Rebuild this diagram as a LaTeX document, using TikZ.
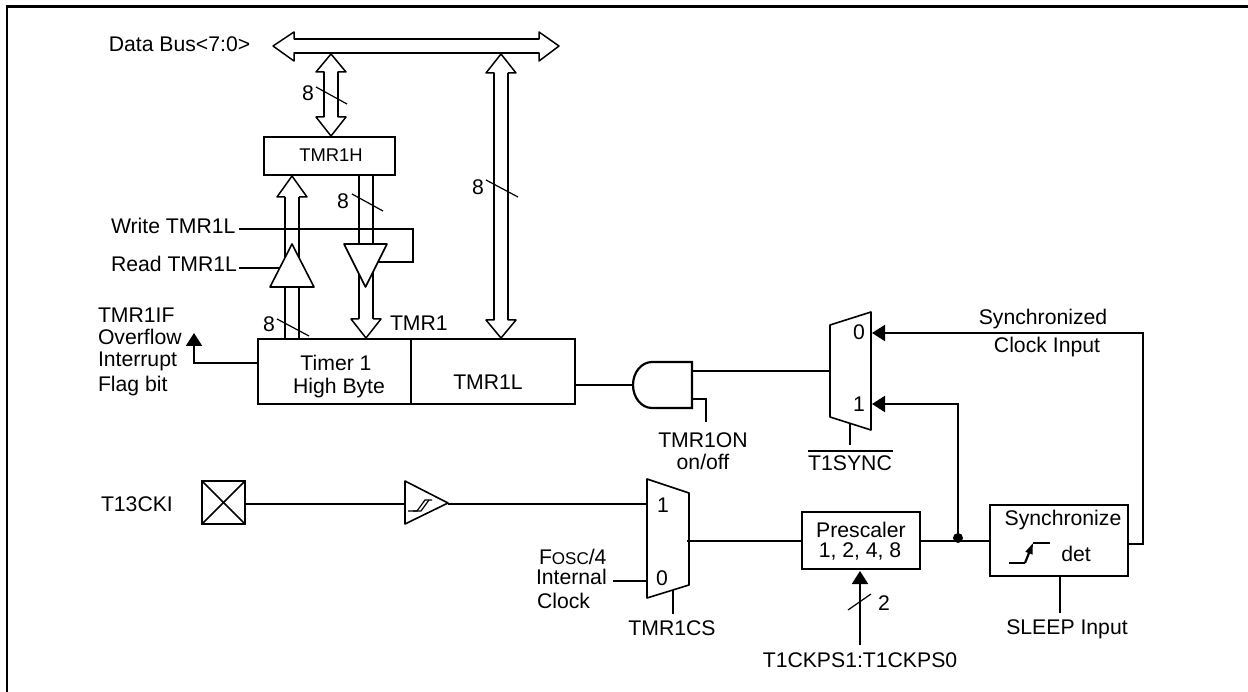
\documentclass[tikz,border=0pt]{standalone}
\usepackage{fontspec}
\setmainfont{Liberation Sans}
\usetikzlibrary{arrows.meta,calc}
\newcommand{\fsmain}{\fontsize{21.2}{21.2}\selectfont}
\newcommand{\fssmall}{\fontsize{18.4}{18.4}\selectfont}
\newcommand{\fscaps}{\fontsize{17}{17}\selectfont}
% vertical double-headed bus: x, top tip, top base, bottom base, bottom tip
\newcommand{\vbusboth}[5]{%
  \draw[headline,fill=white] ({#1-7},#3) -- ({#1-15},#3) -- (#1,#2) -- ({#1+15},#3) -- ({#1+7},#3) -- ({#1+7},#4) -- ({#1+15},#4) -- (#1,#5) -- ({#1-15},#4) -- ({#1-7},#4) -- cycle;
  \draw[wire] ({#1-7},#3) -- ({#1-7},#4);
  \draw[wire] ({#1+7},#3) -- ({#1+7},#4);}
\tikzset{
  wire/.style={line width=2.2pt},
  thinwire/.style={line width=1.6pt},
  headline/.style={line width=1.5pt,line join=round},
  slash/.style={line width=1.2pt},
  box/.style={draw,line width=2.2pt,inner sep=0pt,outer sep=0pt,fill=white},
  lab/.style={font=\fsmain,inner sep=0pt,outer sep=0pt,anchor=base},
  labw/.style={font=\fsmain,inner sep=0pt,outer sep=0pt,anchor=base west},
  labsm/.style={font=\fssmall,inner sep=0pt,outer sep=0pt,anchor=base},
  head/.style={-{Triangle[length=13pt,width=16pt]}},
  gate/.style={thinwire,fill=white,line join=round},
}
\begin{document}
\begin{tikzpicture}[x=1pt,y=-1pt]
\useasboundingbox (0,0) rectangle (1248,692);
\fill[white] (0,0) rectangle (1248,692);
% frame
\draw[line width=2.4pt] (7,692) -- (7,6.5) -- (1248,6.5);

% boxes
\node[box,minimum width=131pt,minimum height=38pt] (th) at (329.5,156) {};
\node[box,minimum width=153pt,minimum height=65pt] (thigh) at (334.5,371.5) {};
\node[box,minimum width=164pt,minimum height=65pt] (tlow) at (493,371.5) {};
\node[box,minimum width=43pt,minimum height=43pt] (pin) at (223.5,502.5) {};
\node[box,minimum width=118pt,minimum height=57pt] (pres) at (861,540.5) {};
\node[box,minimum width=138pt,minimum height=71pt] (sync) at (1059,540.5) {};

% buses
\draw[headline,fill=white] (294,39) -- (539,39) -- (539,32) -- (559,46) -- (539,61) -- (539,53) -- (294,53) -- (294,61) -- (273,46) -- (294,32) -- cycle;
\draw[wire] (294,39) -- (539,39);
\draw[wire] (294,53) -- (539,53);
\vbusboth{331}{54}{72}{117}{136}
\vbusboth{501}{54}{73}{320}{338}
% bus into TMR1H
\draw[headline,fill=white] (285,197) -- (277,197) -- (292,176) -- (307,197) -- (299,197);
\draw[wire] (285,197) -- (285,339);
\draw[wire] (299,197) -- (299,339);
% bus out of TMR1H
\draw[wire] (359,176) -- (359,319);
\draw[wire] (373,176) -- (373,319);
\draw[headline,fill=white] (359,319) -- (351,319) -- (366,338) -- (381,319) -- (373,319);

% write / read lines
\coordinate (wr0) at (239,229);
\coordinate (wr1) at (413,229);
\coordinate (wr2) at (413,262);
\coordinate (wr3) at (378,262);
\coordinate (rd0) at (239,268);
\coordinate (rd1) at (280,268);
\draw[wire] (wr0) -- (wr1) -- (wr2) -- (wr3);
\draw[wire] (rd0) -- (rd1);
% tristate buffers
\draw[gate] (292,244) -- (314,287) -- (270,287) -- cycle;
\draw[gate] (344,244) -- (387,244) -- (365.5,287) -- cycle;

% bus width slashes
\draw[slash] (316,87) -- (347,104);
\draw[slash] (352,194) -- (383,211);
\draw[slash] (486,180) -- (518,197);
\draw[slash] (277,319) -- (309,336);

% overflow flag
\coordinate (ov0) at (194,363);
\coordinate (ovt) at (194,333);
\draw[wire,head] (thigh.west |- ov0) -- (ov0) -- (ovt);

% AND gate
\draw[wire,fill=white] (652,362) -- (692,362) -- (692,408) -- (652,408) arc[start angle=90,end angle=270,x radius=19pt,y radius=-23pt] -- cycle;
\coordinate (andin) at (633,385);
\coordinate (andout) at (692,371);
\coordinate (anden) at (692,399);
\coordinate (onb) at (706,399);
\coordinate (one) at (706,422);
\draw[wire] (tlow.east |- andin) -- (andin);
\draw[wire] (anden) -- (onb) -- (one);

% upper mux
\draw[gate] (830,325) -- (871,312) -- (871,430) -- (830,417) -- cycle;
\coordinate (m2in) at (831,371);
\draw[wire] (andout) -- (m2in);
\coordinate (m2s) at (850,424);
\coordinate (m2e) at (850,445);
\draw[wire] (m2s) -- (m2e);
\draw[line width=2.2pt] (808,451) -- (893,451);

% schmitt input
\draw[thinwire] (pin.north west) -- (pin.south east);
\draw[thinwire] (pin.south west) -- (pin.north east);
\draw[gate] (405,481) -- (448,503) -- (405,524) -- cycle;
\draw[line width=1.2pt] (408,511) -- (417,511) -- (425,500) -- (432,500);
\draw[line width=1.2pt] (413,511) -- (421,511) -- (429,500);
\coordinate (bufin) at (405,504);
\coordinate (bufout) at (448,504);
\coordinate (m1in) at (647,504);
\draw[wire] (pin.east |- bufin) -- (bufin);
\draw[wire] (bufout) -- (m1in);

% lower mux
\draw[gate] (647,479) -- (689,493) -- (689,585) -- (647,598) -- cycle;
\coordinate (m1f0) at (613,581);
\coordinate (m1f1) at (647,581);
\coordinate (m1out) at (687,541);
\coordinate (m1s) at (673,590);
\coordinate (m1e) at (673,614);
\draw[wire] (m1f0) -- (m1f1);
\draw[wire] (m1out) -- (pres.west |- m1out);
\draw[wire] (m1s) -- (m1e);

% prescaler control
\coordinate (psb) at (860,645);
\coordinate (pst) at (860,571);
\draw[wire,head] (psb) -- (pst);
\draw[slash] (848,610) -- (871,594);

% clock nets
\coordinate (clk) at (958,541);
\coordinate (dot) at (958,538);
\coordinate (c1) at (958,404);
\coordinate (m21) at (872,404);
\coordinate (c2) at (1143,544);
\coordinate (c3) at (1143,333);
\coordinate (m20) at (872,333);
\draw[wire] (pres.east |- clk) -- (sync.west |- clk);
\draw[wire,head] (dot) -- (c1) -- (m21);
\draw[wire,head] (sync.east |- c2) -- (c2) -- (c3) -- (m20);
\fill (dot) circle[radius=5pt];

% rising-edge symbol
\coordinate (e0) at (1009,563);
\coordinate (e1) at (1025,563);
\coordinate (e2) at (1033,543);
\coordinate (e3) at (1050,543);
\draw[wire] (e0) -- (e1);
\draw[wire,-{Triangle[length=11pt,width=7pt]}] (e1) -- (e2);
\draw[wire] (e2) -- (e3);

% sleep
\coordinate (sl) at (1060,613);
\draw[wire] (sync.south -| sl) -- (sl);

% texts
\node[lab] (tbus) at (179.5,52) {Data Bus<7:0>};
\node[labsm] (tth) at (331,162) {TMR1H};
\node[lab] (t8a) at (308,101) {8};
\node[lab] (t8b) at (343,209) {8};
\node[lab] (t8c) at (478,195) {8};
\node[lab] (t8d) at (269,332) {8};
\node[labw] (twr) at (111,234) {Write TMR1L};
\node[labw] (trd) at (111,272) {Read TMR1L};
\node[labw] (tif) at (98,323) {TMR1IF};
\node[labw] (tov) at (98,345) {Overflow};
\node[labw] (tint) at (98,367) {Interrupt};
\node[labw] (tflag) at (98,392) {Flag bit};
\node[labw] (ttm) at (390,331) {TMR1};
\node[lab] (ttimer) at (336,371) {Timer 1};
\node[lab] (thb) at (339,394) {High Byte};
\node[lab] (ttl) at (488,390) {TMR1L};
\node[lab] (tonn) at (703,448) {TMR1ON};
\node[lab] (toff) at (703,469) {on/off};
\node[lab] (tm0) at (859,340) {0};
\node[lab] (tm1) at (859,412) {1};
\node[lab] (tsyn) at (850,471) {T1SYNC};
\node[lab] (tsz) at (1043,325) {Synchronized};
\node[lab] (tci) at (1047,353) {Clock Input};
\node[labw] (tck) at (101,511) {T13CKI};
\node[lab] (tl1) at (663,512) {1};
\node[lab] (tl0) at (662,585) {0};
\node[labw] (tfo) at (539,564) {F{\fscaps OSC}/4};
\node[labw] (tin) at (536,584) {Internal};
\node[labw] (tcl) at (537,608) {Clock};
\node[lab] (tcs) at (672,635) {TMR1CS};
\node[lab] (tpr) at (861,537) {Prescaler};
\node[lab] (tpv) at (860,557) {1, 2, 4, 8};
\node[lab] (t2) at (884,610) {2};
\node[lab] (tps) at (860,667) {T1CKPS1:T1CKPS0};
\node[lab] (tsy) at (1063,525) {Synchronize};
\node[lab] (tdet) at (1076,561) {det};
\node[lab] (tsl) at (1067,634) {SLEEP Input};
\end{tikzpicture}
\end{document}
